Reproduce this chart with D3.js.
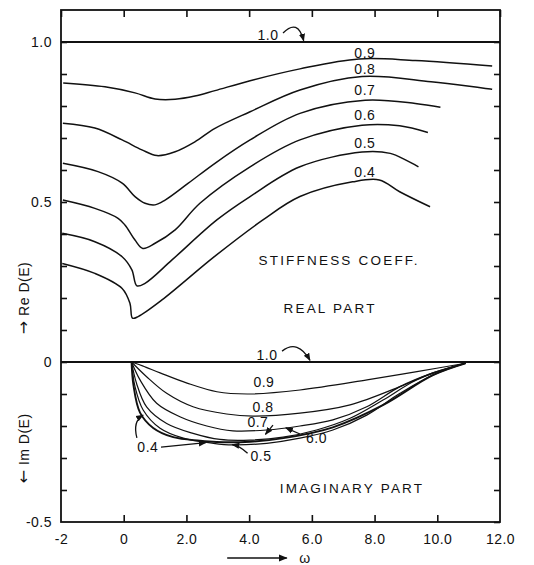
<!DOCTYPE html>
<html>
<head>
<meta charset="utf-8">
<script src="https://cdn.jsdelivr.net/npm/d3@7"></script>
<style>
  html, body { margin: 0; padding: 0; background: #fff; }
  svg { display: block; }
  text { font-family: "Liberation Sans", Arial, sans-serif; fill: #111; }
</style>
</head>
<body>
<svg id="chart" width="534" height="565"></svg>
<script>
// ---------- DATA ----------
const xTickValues = [-2, 0, 2, 4, 6, 8, 10, 12];
const xTickLabels = ["-2", "0", "2.0", "4.0", "6.0", "8.0", "10.0", "12.0"];
const yTickValues = [1.0, 0.5, 0, -0.5];
const yTickLabels = ["1.0", "0.5", "0", "-0.5"];

const realLevels = ["1.0", "0.9", "0.8", "0.7", "0.6", "0.5", "0.4"];
const imagLevels = ["1.0", "0.9", "0.8", "0.7", "0.6", "0.5", "0.4"];

// Real part (stiffness coefficient), [omega, Re D(E)]
const re10 = [[-2, 1.0], [12, 1.0]];
const re09 = [[-1.93, 0.872], [-0.6, 0.860], [0.36, 0.841], [1.0, 0.822], [1.64, 0.821], [2.27, 0.831],
              [2.91, 0.848], [4.03, 0.879], [5.62, 0.916], [7.5, 0.947], [9.3, 0.942], [11.75, 0.925]];
const re08 = [[-1.94, 0.746], [-0.92, 0.731], [-0.05, 0.694], [0.58, 0.663], [1.06, 0.645], [1.64, 0.657],
              [2.27, 0.688], [2.91, 0.730], [4.03, 0.782], [5.62, 0.850], [7.6, 0.892], [9.8, 0.876], [11.75, 0.852]];
const re07 = [[-1.94, 0.621], [-0.82, 0.595], [-0.05, 0.559], [0.36, 0.517], [0.68, 0.496], [1.0, 0.491],
              [1.32, 0.506], [2.05, 0.558], [2.91, 0.621], [4.03, 0.694], [5.62, 0.777], [7.7, 0.818],
              [9.3, 0.808], [10.1, 0.796]];
const re06 = [[-1.94, 0.506], [-0.92, 0.480], [-0.18, 0.449], [0.04, 0.428], [0.36, 0.381], [0.61, 0.355],
              [1.0, 0.371], [1.64, 0.413], [2.43, 0.496], [4.03, 0.610], [5.62, 0.694], [7.6, 0.740],
              [8.8, 0.738], [9.7, 0.717]];
const re05 = [[-1.96, 0.402], [-0.92, 0.376], [-0.05, 0.329], [0.26, 0.288], [0.42, 0.238], [0.68, 0.246],
              [1.54, 0.319], [2.97, 0.444], [4.03, 0.517], [5.62, 0.610], [7.6, 0.656], [8.5, 0.652],
              [9.0, 0.631], [9.4, 0.610]];
const re04 = [[-1.96, 0.308], [-0.92, 0.277], [-0.05, 0.230], [0.2, 0.183], [0.28, 0.137], [0.46, 0.142],
              [1.22, 0.194], [2.9, 0.330], [4.44, 0.444], [5.62, 0.517], [7.3, 0.563], [8.15, 0.569],
              [8.8, 0.532], [9.77, 0.485]];

// Imaginary part, [omega, Im D(E)]
const im10 = [[-2, 0], [12, 0]];
const im09 = [[0.25, 0], [0.6, -0.012], [1.16, -0.034], [2.02, -0.066], [2.97, -0.093], [3.96, -0.100],
              [5.62, -0.0875], [7.76, -0.056], [9.35, -0.030], [10.9, -0.004]];
const im08 = [[0.25, 0], [0.73, -0.046], [1.37, -0.098], [2.21, -0.140], [3.28, -0.1625], [4.12, -0.169],
              [5.62, -0.160], [7.22, -0.134], [8.81, -0.077], [9.86, -0.034], [10.9, -0.004]];
const im07 = [[0.25, 0], [0.52, -0.056], [1.05, -0.129], [1.79, -0.171], [2.65, -0.200], [3.48, -0.215],
              [4.56, -0.2125], [5.62, -0.200], [6.67, -0.181], [7.75, -0.140], [8.81, -0.077], [9.86, -0.034], [10.9, -0.004]];
const im06 = [[0.25, 0], [0.41, -0.067], [0.73, -0.140], [1.37, -0.192], [2.21, -0.223], [3.07, -0.242],
              [4.03, -0.244], [5.08, -0.235], [6.15, -0.2125], [7.22, -0.176], [8.27, -0.119], [9.34, -0.056], [10.9, -0.004]];
const im05 = [[0.25, 0], [0.36, -0.077], [0.62, -0.150], [1.16, -0.207], [1.90, -0.238], [2.86, -0.254],
              [3.48, -0.259], [4.56, -0.254], [5.62, -0.238], [6.67, -0.2125], [7.75, -0.166], [8.81, -0.098],
              [9.86, -0.041], [10.9, -0.004]];
const im04 = [[0.25, 0], [0.31, -0.072], [0.52, -0.158], [0.94, -0.206], [1.58, -0.235], [2.43, -0.246],
              [2.96, -0.250], [4.03, -0.249], [5.09, -0.238], [6.67, -0.204], [8.28, -0.134], [9.86, -0.041], [10.9, -0.004]];

const realCurves = [re10, re09, re08, re07, re06, re05, re04];
const imagCurves = [im10, im09, im08, im07, im06, im05, im04];

// ---------- CHART ----------
(function () {
const svg = d3.select("#chart");
const pL = 61, pR = 500, pT = 10, pB = 522;
const x = d3.scaleLinear().domain([-2, 12]).range([pL, pR]);
const y = d3.scaleLinear().domain([-0.5, 1.1]).range([pB, pT]);

const line = d3.line().x(d => x(d[0])).y(d => y(d[1])).curve(d3.curveCatmullRom.alpha(0.5));

// axes (ticks pointing inward)
const fmtX = d => xTickLabels[xTickValues.indexOf(d)];
const gB = svg.append("g").attr("transform", `translate(0,${pB})`)
  .call(d3.axisBottom(x).tickValues(xTickValues).tickSizeInner(-7).tickSizeOuter(0).tickPadding(12).tickFormat(fmtX));
const gT = svg.append("g").attr("transform", `translate(0,${pT})`)
  .call(d3.axisTop(x).tickValues(xTickValues).tickSizeInner(-7).tickSizeOuter(0).tickFormat(""));
const minorY = d3.range(-5, 11).map(i => i / 10);
const fmtY = d => {
  const i = yTickValues.findIndex(v => Math.abs(v - d) < 1e-9);
  return i >= 0 ? yTickLabels[i] : "";
};
const gL = svg.append("g").attr("transform", `translate(${pL},0)`)
  .call(d3.axisLeft(y).tickValues(minorY).tickSizeInner(-6).tickSizeOuter(0).tickPadding(9).tickFormat(fmtY));
const gR = svg.append("g").attr("transform", `translate(${pR},0)`)
  .call(d3.axisRight(y).tickValues(minorY).tickSizeInner(-6).tickSizeOuter(0).tickFormat(""));

[gB, gT, gL, gR].forEach(g => {
  g.select(".domain").remove();
  g.selectAll(".tick line").attr("stroke", "#111").attr("stroke-width", 1.6);
  g.selectAll(".tick text").attr("font-size", 14).attr("fill", "#111")
    .attr("font-family", "Liberation Sans, Arial, sans-serif").attr("letter-spacing", 0.5);
});
gB.selectAll(".tick").filter(d => d === -2 || d === 12).select("line").remove();
gL.selectAll(".tick").filter(d => Math.abs(d + 0.5) < 1e-9).select("line").remove();

// frame
svg.append("rect").attr("x", pL).attr("y", pT).attr("width", pR - pL).attr("height", pB - pT)
  .attr("fill", "none").attr("stroke", "#111").attr("stroke-width", 1.8);

// curves
svg.append("g").selectAll("path").data(realCurves).join("path")
  .attr("d", line).attr("fill", "none").attr("stroke", "#111")
  .attr("stroke-width", (d, i) => i === 0 ? 1.8 : 1.5);
svg.append("g").selectAll("path").data(imagCurves).join("path")
  .attr("d", line).attr("fill", "none").attr("stroke", "#111")
  .attr("stroke-width", (d, i) => i === 0 ? 1.8 : (i === 6 ? 1.9 : 1.2));

// labels
const lbl = (t, dx, dy, size, ls) => svg.append("text")
  .attr("x", x(dx)).attr("y", y(dy)).attr("dy", "0.36em")
  .attr("text-anchor", "middle").attr("font-size", size || 14)
  .attr("letter-spacing", ls || 0.5).text(t);

const reLabelY = [1.022, 0.966, 0.916, 0.850, 0.772, 0.684, 0.594];
realLevels.forEach((t, i) => lbl(t, i === 0 ? 4.6 : 7.69, reLabelY[i], 14, 0.5));
lbl("STIFFNESS  COEFF.", 6.87, 0.319, 13.5, 2.2);
lbl("REAL  PART", 6.58, 0.169, 13.5, 2.2);
lbl("IMAGINARY  PART", 7.28, -0.394, 13.5, 2.2);

lbl(imagLevels[0], 4.57, 0.022, 14);
lbl(imagLevels[1], 4.47, -0.0625, 14);
lbl(imagLevels[2], 4.44, -0.141, 14);
lbl(imagLevels[3], 4.28, -0.187, 14);
lbl("6.0", 6.15, -0.2375, 14);
lbl(imagLevels[6], 0.77, -0.266, 14);
lbl(imagLevels[5], 4.38, -0.294, 14);

// arrows
const defs = svg.append("defs");
defs.append("marker").attr("id", "ah").attr("viewBox", "0 0 10 10").attr("refX", 9).attr("refY", 5)
  .attr("markerWidth", 6).attr("markerHeight", 6).attr("orient", "auto")
  .append("path").attr("d", "M0,1 L10,5 L0,9 Z").attr("fill", "#111");
const arrow = (pts) => {
  const p = d3.path();
  p.moveTo(x(pts[0][0]), y(pts[0][1]));
  if (pts.length === 3) p.quadraticCurveTo(x(pts[1][0]), y(pts[1][1]), x(pts[2][0]), y(pts[2][1]));
  else p.lineTo(x(pts[1][0]), y(pts[1][1]));
  svg.append("path").attr("d", p.toString()).attr("fill", "none").attr("stroke", "#111")
    .attr("stroke-width", 1.3).attr("marker-end", "url(#ah)");
};
arrow([[5.08, 1.028], [5.55, 1.075], [5.74, 1.004]]);
arrow([[5.05, 0.034], [5.55, 0.072], [5.94, 0.005]]);
arrow([[5.62, -0.225], [5.17, -0.206]]);
arrow([[4.76, -0.197], [4.52, -0.226]]);
arrow([[1.19, -0.266], [2.62, -0.252]]);
arrow([[0.42, -0.237], [0.28, -0.185], [0.62, -0.166]]);
arrow([[3.95, -0.285], [3.7, -0.262], [3.46, -0.258]]);

// axis titles (rotated), with a larger arrow glyph
const vtitle = (arrowGlyph, t, cy) => {
  const tx = svg.append("text").attr("transform", `translate(24,${cy}) rotate(-90)`)
    .attr("text-anchor", "middle").attr("dy", "0.36em").attr("font-size", 14).attr("letter-spacing", 0.5);
  tx.append("tspan").attr("font-family", "DejaVu Sans, sans-serif").attr("font-size", 16).text(arrowGlyph);
  tx.append("tspan").text(" " + t);
};
vtitle("\u2192", "Re D(E)", y(0.2));
vtitle("\u2190", "Im D(E)", y(-0.27));

svg.append("line").attr("x1", x(3.3)).attr("x2", x(5.2)).attr("y1", 558).attr("y2", 558)
  .attr("stroke", "#111").attr("stroke-width", 1.5).attr("marker-end", "url(#ah)");
svg.append("text").attr("x", x(5.6)).attr("y", 563).attr("font-size", 14).text("\u03c9");
})();
</script>
</body>
</html>
